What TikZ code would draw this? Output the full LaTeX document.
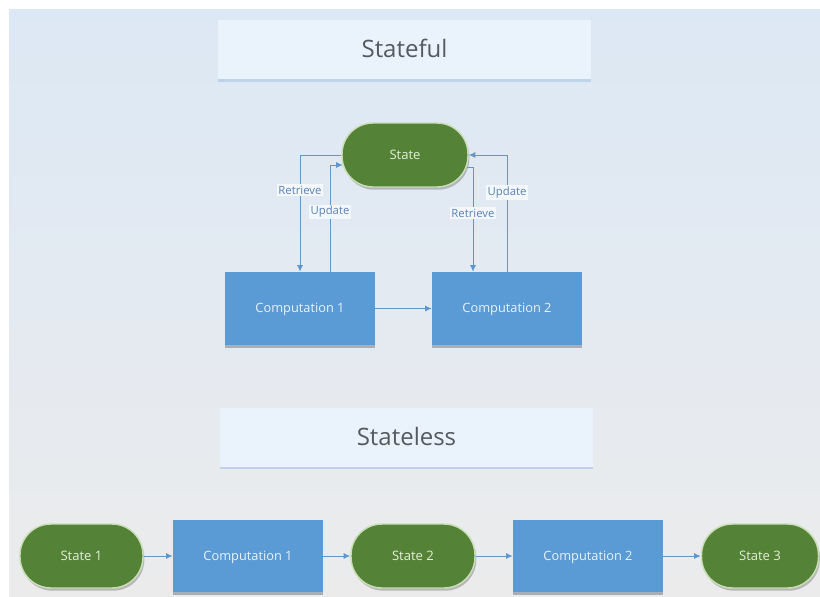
\documentclass[tikz,border=0pt]{standalone}
\usepackage{fontspec}
\setmainfont{Open Sans}
\usetikzlibrary{arrows.meta,shadows,calc}
\newdimen\pxu \pxu=0.75pt
\definecolor{bgtop}{HTML}{DCE8F4}
\definecolor{bgmid}{HTML}{E4EAF1}
\definecolor{bgbot}{HTML}{EBEBEC}
\definecolor{titlefill}{HTML}{EAF3FC}
\definecolor{titleshadow}{HTML}{BED3EA}
\definecolor{titletext}{HTML}{555A60}
\definecolor{stgreen}{HTML}{548236}
\definecolor{stborder}{HTML}{C9DDB6}
\definecolor{sttext}{HTML}{E4EEDA}
\definecolor{compblue}{HTML}{5B9BD5}
\definecolor{compshadow}{HTML}{A8AFB7}
\definecolor{comptext}{HTML}{EAF2FA}
\definecolor{arrowblue}{HTML}{5E97D0}
\definecolor{lbltext}{HTML}{5A82B6}
\definecolor{lblfill}{HTML}{F4F8FC}
\begin{document}
\begin{tikzpicture}[x=0.75pt,y=-0.75pt,
  titlebox/.style={fill=titlefill, minimum width=373\pxu, minimum height=59\pxu,
    text=titletext, font=\fontsize{18}{20}\selectfont, inner sep=0pt,
    text height=12.4pt, text depth=0pt,
    drop shadow={shadow xshift=0pt, shadow yshift=-2pt, fill=titleshadow, opacity=1}},
  statebox/.style={fill=stgreen, draw=stborder, line width=1.1pt, rounded corners=31\pxu,
    minimum height=64\pxu, text=sttext, font=\fontsize{9.8}{11}\selectfont, inner sep=0pt,
    text height=6.8pt, text depth=0pt,
    drop shadow={shadow xshift=1pt, shadow yshift=-2pt, fill=black, opacity=0.22}},
  compbox/.style={fill=compblue, minimum width=150\pxu, minimum height=73\pxu,
    text=comptext, font=\fontsize{9.6}{11}\selectfont, inner sep=0pt,
    text height=6.7pt, text depth=0pt,
    drop shadow={shadow xshift=0pt, shadow yshift=-2.5pt, fill=compshadow, opacity=1}},
  arr/.style={draw=arrowblue, line width=0.7pt, -{Latex[length=5pt,width=4.5pt]}},
  lbl/.style={fill=lblfill, text=lbltext, font=\fontsize{8.5}{9}\selectfont, inner sep=1.2pt}
]
\useasboundingbox (0,0) rectangle (820,596);
\fill[white] (0,0) rectangle (820,596);
\shade[top color=bgtop, bottom color=bgbot, middle color=bgmid] (9,9) rectangle (820,596);

% Stateful part
\node[titlebox] (t1) at (404.5,49.5) {Stateful};
\node[statebox, minimum width=126\pxu] (st) at (405,155) {State};
\node[compbox] (c1) at (300,308.5) {Computation 1};
\node[compbox] (c2) at (507,308.5) {Computation 2};

\draw[arr] (st.west) -| (c1.north -| 300,0) node[lbl, pos=0.65] (r1) {Retrieve};
\draw[arr] ([xshift=30\pxu]c1.north) |- ([yshift=-10\pxu,xshift=1.5\pxu]st.west) node[lbl, pos=0.28] (u1) {Update};
\draw[arr] ([yshift=-12\pxu,xshift=-2\pxu]st.east) -| ([xshift=-34\pxu]c2.north) node[lbl, pos=0.72] (r2) {Retrieve};
\draw[arr] (c2.north) |- (st.east) node[lbl, pos=0.34] (u2) {Update};
\draw[arr] (c1) -- (c2);

% Stateless part
\node[titlebox] (t2) at (406.5,437) {Stateless};
\node[statebox, minimum width=123\pxu] (s1) at (81.5,556) {State 1};
\node[compbox, minimum height=72\pxu] (b1) at (248,556) {Computation 1};
\node[statebox, minimum width=124\pxu] (s2) at (413,556) {State 2};
\node[compbox, minimum height=72\pxu] (b2) at (588,556) {Computation 2};
\node[statebox, minimum width=117\pxu] (s3) at (760,556) {State 3};

\draw[arr] (s1) -- (b1);
\draw[arr] (b1) -- (s2);
\draw[arr] (s2) -- (b2);
\draw[arr] (b2) -- (s3);
\end{tikzpicture}
\end{document}
